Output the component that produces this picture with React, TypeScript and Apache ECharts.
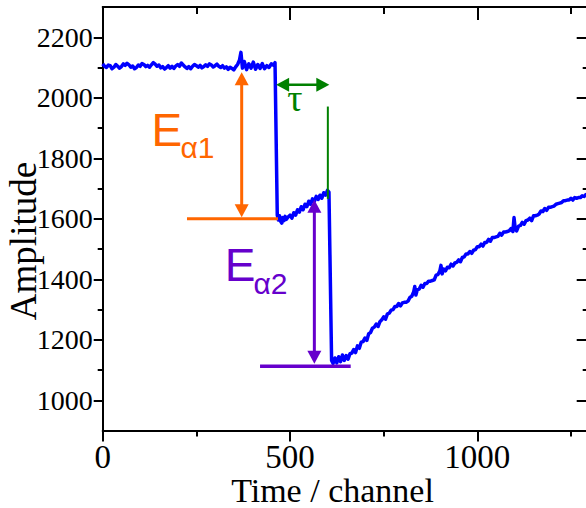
import { useEffect, useRef } from 'react';
import * as echarts from 'echarts';

// ---- axes ----
const X_MIN = 0;
const X_MAX = 1300;
const Y_MIN = 900;
const Y_MAX = 2300;
const xLabelTicks = [0, 500, 1000];
const xMinorTicks = [250, 750, 1250];
const yLabelTicks = [1000, 1200, 1400, 1600, 1800, 2000, 2200];
const yMinorTicks = [1100, 1300, 1500, 1700, 1900, 2100];

// ---- trace: [channel, amplitude] ----
const baseline: [number, number][] = [
  [0, 2112], [5, 2104], [10, 2100], [15, 2108], [20, 2106], [25, 2096], [30, 2101], [35, 2110],
  [40, 2104], [45, 2098], [50, 2103], [55, 2112], [60, 2107], [65, 2114], [70, 2109], [75, 2101],
  [80, 2105], [85, 2096], [90, 2100], [95, 2108], [100, 2104], [105, 2113], [110, 2110], [115, 2103],
  [120, 2107], [125, 2101], [130, 2109], [135, 2116], [140, 2111], [145, 2104], [150, 2108], [155, 2099],
  [160, 2103], [165, 2095], [170, 2100], [175, 2106], [180, 2098], [185, 2104], [190, 2097], [195, 2105],
  [200, 2110], [205, 2104], [210, 2115], [215, 2108], [220, 2102], [225, 2097], [230, 2103], [235, 2096],
  [240, 2104], [245, 2110], [250, 2106], [255, 2101], [260, 2107], [265, 2099], [270, 2103], [275, 2109],
  [280, 2104], [285, 2112], [290, 2108], [295, 2102], [300, 2106], [305, 2111], [310, 2104], [315, 2100],
  [320, 2106], [325, 2098], [330, 2102], [335, 2094], [340, 2101], [345, 2097], [350, 2092], [355, 2102],
  [360, 2110], [365, 2124], [369, 2150], [373, 2098], [378, 2120], [384, 2093], [390, 2112], [396, 2098],
  [402, 2118], [408, 2094], [414, 2110], [420, 2097], [426, 2113], [432, 2096], [438, 2106], [444, 2100],
  [450, 2112], [456, 2108], [460, 2116],
];
const firstStep: [number, number][] = [
  [466, 1612], [469, 1596], [472, 1610], [475, 1592], [478, 1586], [481, 1604], [484, 1594], [487, 1608],
  [490, 1598], [495, 1606], [500, 1612], [505, 1602], [510, 1620], [515, 1612], [520, 1630], [525, 1622],
  [530, 1640], [535, 1630], [540, 1648], [545, 1640], [550, 1658], [555, 1648], [560, 1666], [565, 1658],
  [570, 1674], [575, 1664], [580, 1678], [585, 1668], [590, 1686], [595, 1678], [600, 1694], [604, 1688],
];
const recovery: [number, number][] = [
  [611, 1132], [615, 1122], [620, 1140], [625, 1124], [630, 1144], [635, 1128], [640, 1150], [645, 1132],
  [650, 1148], [655, 1136], [660, 1154], [665, 1156], [670, 1168], [675, 1158], [680, 1180], [685, 1172],
  [690, 1192], [695, 1194], [700, 1206], [705, 1198], [710, 1220], [715, 1224], [720, 1238], [725, 1242],
  [730, 1252], [735, 1244], [740, 1260], [745, 1266], [750, 1276], [755, 1268], [760, 1286], [765, 1288],
  [770, 1298], [775, 1300], [780, 1310], [785, 1310], [790, 1320], [795, 1312], [800, 1322], [805, 1324],
  [810, 1324], [815, 1328], [820, 1340], [825, 1344], [830, 1358], [833, 1376], [836, 1348], [840, 1366],
  [845, 1368], [850, 1380], [855, 1374], [860, 1386], [865, 1386], [870, 1394], [875, 1394], [880, 1396],
  [885, 1398], [890, 1414], [895, 1416], [900, 1428], [903, 1446], [906, 1418], [910, 1434], [915, 1428],
  [920, 1440], [925, 1438], [930, 1450], [935, 1444], [940, 1454], [945, 1456], [950, 1464], [955, 1458],
  [960, 1472], [965, 1474], [970, 1484], [975, 1484], [980, 1492], [985, 1486], [990, 1496], [995, 1498],
  [1000, 1508], [1005, 1508], [1010, 1516], [1015, 1510], [1020, 1522], [1025, 1522], [1030, 1532], [1035, 1526],
  [1040, 1538], [1045, 1538], [1050, 1540], [1055, 1542], [1060, 1552], [1065, 1546], [1070, 1556], [1075, 1556],
  [1080, 1558], [1085, 1560], [1090, 1568], [1095, 1558], [1098, 1604], [1101, 1570], [1105, 1560], [1110, 1576],
  [1115, 1578], [1120, 1588], [1125, 1582], [1130, 1594], [1135, 1596], [1140, 1602], [1145, 1594], [1150, 1610],
  [1155, 1610], [1160, 1612], [1165, 1616], [1170, 1626], [1175, 1624], [1180, 1634], [1185, 1628], [1190, 1638],
  [1195, 1638], [1200, 1640], [1205, 1642], [1210, 1648], [1215, 1650], [1220, 1652], [1225, 1654], [1230, 1660],
  [1235, 1660], [1240, 1662], [1245, 1662], [1250, 1668], [1255, 1662], [1260, 1670], [1265, 1668], [1270, 1670],
  [1275, 1670], [1280, 1676], [1285, 1674], [1290, 1680], [1295, 1674], [1300, 1680],
];

// ---- annotations (data coordinates) ----
const eAlpha1Arrow: [number, number][] = [[371, 2084], [371, 1605]];
const eAlpha1Level: [number, number][] = [[225, 1600], [468, 1600]];
const tauArrow: [number, number][] = [[463, 2043], [605, 2043]];
const tauMarker: [number, number][] = [[601, 1971], [601, 1666]];
const eAlpha2Arrow: [number, number][] = [[565, 1663], [565, 1121]];
const eAlpha2Level: [number, number][] = [[420, 1113], [662, 1113]];

const BLACK = '#000000';
const BLUE = '#0000ff';
const ORANGE = '#ff6600';
const GREEN = '#008000';
const PURPLE = '#6600cc';
const SERIF = '"Liberation Serif", "Times New Roman", serif';
const SANS = '"Liberation Sans", Arial, sans-serif';

function axis(
  position: string,
  min: number,
  max: number,
  ticks: number[],
  tickLen: number,
  inside: boolean,
  showLine: boolean,
  label: any,
) {
  return {
    type: 'value',
    position,
    min,
    max,
    axisLine: { show: showLine, onZero: false, lineStyle: { color: BLACK, width: 2 } },
    axisTick: { show: true, inside, length: tickLen, customValues: ticks, lineStyle: { color: BLACK, width: 2 } },
    axisLabel: label ? label : { show: false },
    splitLine: { show: false },
  };
}

export default function App() {
  const ref = useRef<HTMLDivElement>(null);
  useEffect(() => {
    if (!ref.current) return;
    const chart = echarts.init(ref.current, null, { renderer: 'svg' });
    const trace = [...baseline, ...firstStep, ...recovery];
    const plain = (v: number) => String(v);
    chart.setOption({
      animation: false,
      backgroundColor: '#ffffff',
      grid: { left: 102.7, top: 7, width: 487, height: 423.6, containLabel: false, outerBoundsMode: 'none' },
      xAxis: [
        axis('bottom', X_MIN, X_MAX, xLabelTicks, 11, false, true, {
          show: true, customValues: xLabelTicks, formatter: plain, margin: 10, fontSize: 33, fontFamily: SERIF, color: BLACK,
        }),
        axis('bottom', X_MIN, X_MAX, xMinorTicks, 6, false, false, null),
        axis('top', X_MIN, X_MAX, xLabelTicks, 13, true, true, null),
        axis('top', X_MIN, X_MAX, xMinorTicks, 7, true, false, null),
      ],
      yAxis: [
        axis('left', Y_MIN, Y_MAX, yLabelTicks, 9, false, true, {
          show: true, customValues: yLabelTicks, formatter: plain, margin: 10, fontSize: 28, fontFamily: SERIF, color: BLACK,
        }),
        axis('left', Y_MIN, Y_MAX, yMinorTicks, 5, false, false, null),
        axis('right', Y_MIN, Y_MAX, yLabelTicks, 13, true, true, null),
        axis('right', Y_MIN, Y_MAX, yMinorTicks, 7, true, false, null),
      ],
      series: [
        {
          type: 'line',
          xAxisIndex: 0,
          yAxisIndex: 0,
          data: trace,
          showSymbol: false,
          symbol: 'none',
          silent: true,
          lineStyle: { color: BLUE, width: 3.5, join: 'round' },
          itemStyle: { color: BLUE },
          z: 2,
        },
      ],
    });

    const toPx = (p: [number, number]) => chart.convertToPixel({ gridIndex: 0 }, p) as number[];
    const seg = (pts: [number, number][], color: string, width: number) => {
      const a = toPx(pts[0]);
      const b = toPx(pts[1]);
      return {
        type: 'line',
        z: 10,
        silent: true,
        shape: { x1: a[0], y1: a[1], x2: b[0], y2: b[1] },
        style: { stroke: color, lineWidth: width },
      };
    };
    const arrow = (pts: [number, number][], color: string, width: number, headLen: number, headHalf: number) => {
      const a = toPx(pts[0]);
      const b = toPx(pts[1]);
      const dx = b[0] - a[0];
      const dy = b[1] - a[1];
      const L = Math.hypot(dx, dy);
      const ux = dx / L;
      const uy = dy / L;
      const nx = -uy;
      const ny = ux;
      const head = (tx: number, ty: number, dx2: number, dy2: number) => ({
        type: 'polygon',
        z: 11,
        silent: true,
        shape: {
          points: [
            [tx, ty],
            [tx - dx2 * headLen + nx * headHalf, ty - dy2 * headLen + ny * headHalf],
            [tx - dx2 * headLen - nx * headHalf, ty - dy2 * headLen - ny * headHalf],
          ],
        },
        style: { fill: color },
      });
      return [
        {
          type: 'line',
          z: 10,
          silent: true,
          shape: {
            x1: a[0] + ux * headLen * 0.8,
            y1: a[1] + uy * headLen * 0.8,
            x2: b[0] - ux * headLen * 0.8,
            y2: b[1] - uy * headLen * 0.8,
          },
          style: { stroke: color, lineWidth: width },
        },
        head(b[0], b[1], ux, uy),
        head(a[0], a[1], -ux, -uy),
      ];
    };
    const text = (t: string, x: number, y: number, color: string, size: number, family: string, extra: any = {}) => ({
      type: 'text',
      x,
      y,
      z: 12,
      silent: true,
      ...extra,
      style: { text: t, fill: color, fontSize: size, fontFamily: family, align: 'left', verticalAlign: 'middle', ...(extra.style || {}) },
    });

    chart.setOption({
      graphic: [
        seg(eAlpha1Level, ORANGE, 3),
        ...arrow(eAlpha1Arrow, ORANGE, 3, 13, 7),
        seg(tauMarker, GREEN, 2),
        ...arrow(tauArrow, GREEN, 2.5, 13, 7),
        seg(eAlpha2Level, PURPLE, 3.5),
        ...arrow(eAlpha2Arrow, PURPLE, 3, 13, 7),
        text('E', 151.5, 130, ORANGE, 46, SANS),
        text('α1', 180.5, 147.5, ORANGE, 30, SANS),
        text('E', 224.8, 265, PURPLE, 46, SANS),
        text('α2', 253.5, 283, PURPLE, 30, SANS),
        text('τ', 295, 98, GREEN, 38, SERIF, { style: { align: 'center' } }),
        text('Amplitude', 23.5, 241, BLACK, 37, SERIF, { rotation: Math.PI / 2, style: { align: 'center' } }),
        text('Time / channel', 332.5, 490.5, BLACK, 34, SERIF, { style: { align: 'center' } }),
      ],
    });

    return () => chart.dispose();
  }, []);

  return (
    <div
      style={{ position: 'fixed', left: 0, top: 0, width: 586, height: 508, overflow: 'hidden', background: '#ffffff' }}
    >
      <div ref={ref} style={{ width: 600, height: 508 }} />
    </div>
  );
}
